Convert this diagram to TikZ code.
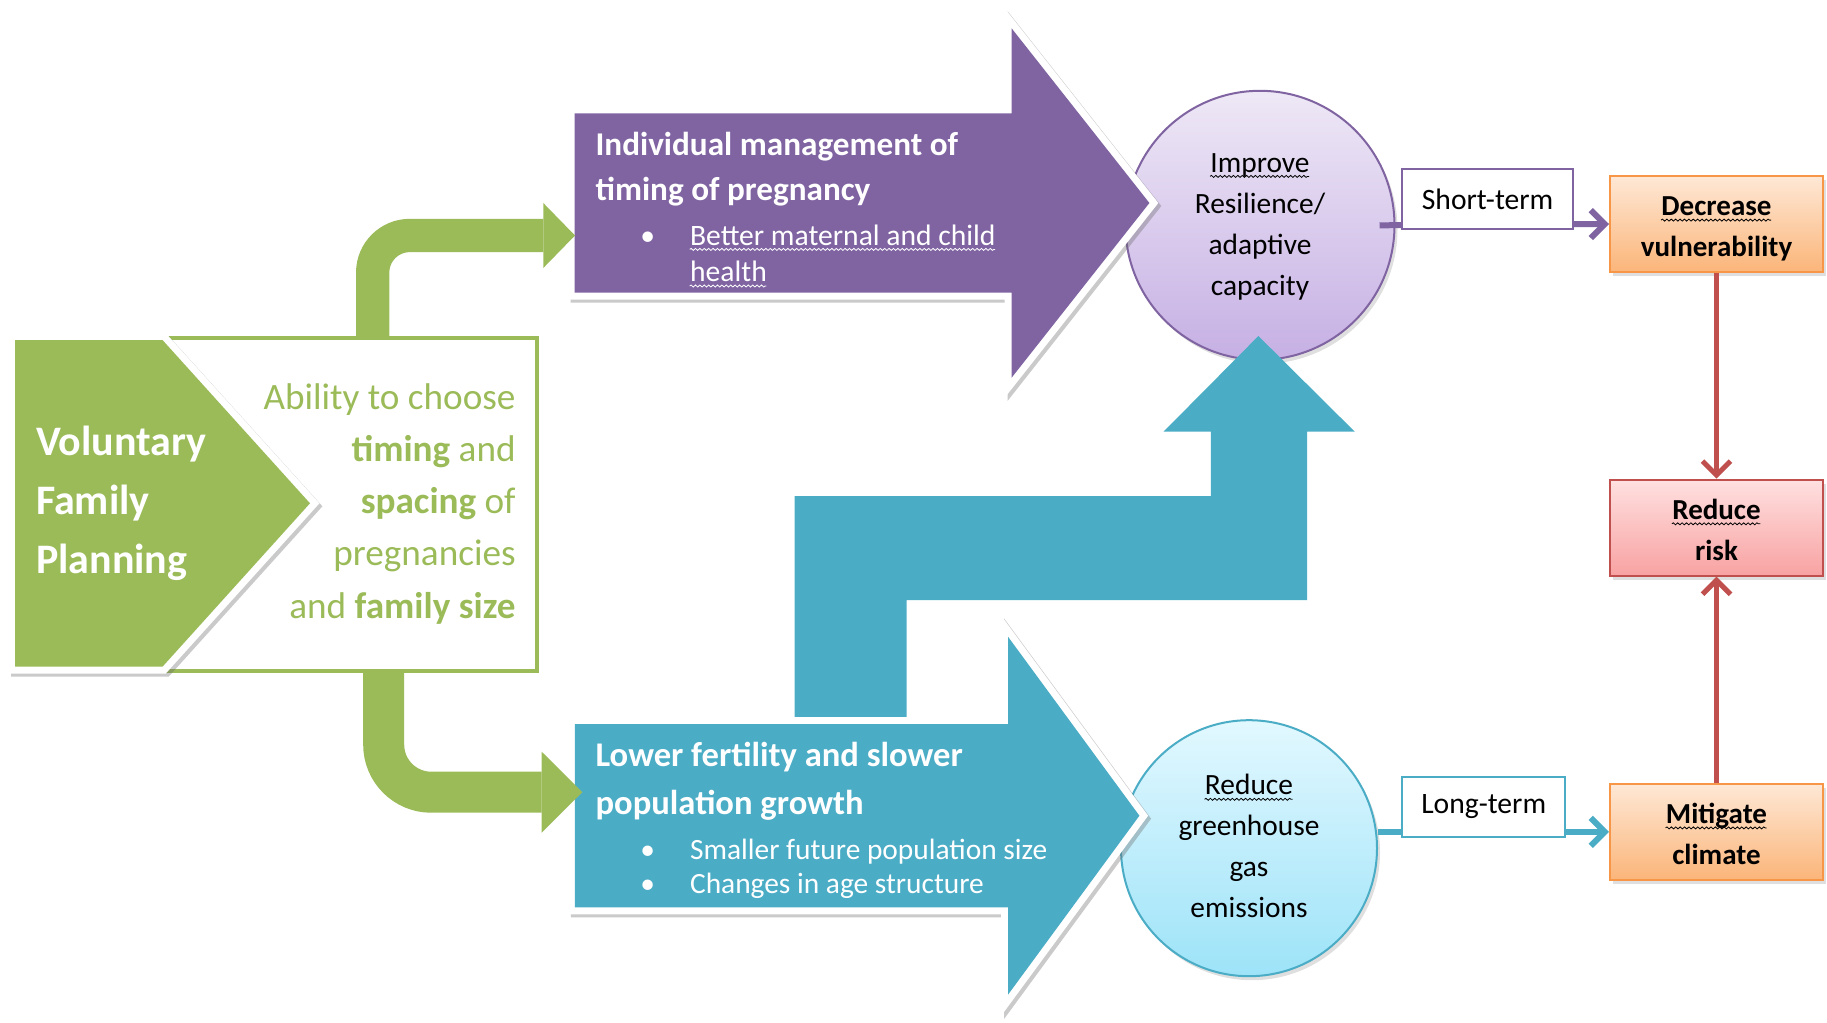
\documentclass[tikz,border=0pt]{standalone}
\usepackage{fontspec}
\setmainfont{Carlito}
\usetikzlibrary{arrows.meta, shadows, decorations.pathmorphing}

\definecolor{fpgreen}{HTML}{9BBB59}
\definecolor{fppurple}{HTML}{8064A2}
\definecolor{fpteal}{HTML}{4BACC6}
\definecolor{fpred}{HTML}{C0504D}
\definecolor{fporange}{HTML}{F79646}
\definecolor{lavtop}{HTML}{EEE8F6}
\definecolor{lavbot}{HTML}{C6B0E4}
\definecolor{skytop}{HTML}{E2F8FF}
\definecolor{skybot}{HTML}{9DE3F8}
\definecolor{peachtop}{HTML}{FEE8D6}
\definecolor{peachbot}{HTML}{FBB579}
\definecolor{pinktop}{HTML}{FFE0E0}
\definecolor{pinkbot}{HTML}{F8A2A2}

% wavy underline under a word
\newsavebox\sqbox
\newcommand\squig[1]{\sbox\sqbox{#1}\usebox\sqbox\llap{\tikz[baseline=0pt]{%
  \draw[draw=., line width=0.4pt, decorate,
        decoration={snake, amplitude=0.5pt, segment length=2.2pt}]
    (0pt,-2.2pt) -- (\wd\sqbox,-2.2pt);}}}

\begin{document}
\begin{tikzpicture}[x=0.5pt, y=-0.5pt,
  blockarrow/.style={drop shadow={shadow xshift=1.5pt, shadow yshift=-1.5pt,
      opacity=0.35, fill=black!60, draw=black!60, line width=7pt},
    preaction={draw=white, line width=7pt}, fill=#1},
  outcome/.style={circle, draw=#1, line width=1pt, inner sep=0pt,
    font=\fontsize{14.7}{20.5}\selectfont,
    drop shadow={shadow xshift=1.5pt, shadow yshift=-2pt, opacity=0.25}},
  termbox/.style={draw=#1, line width=1pt, fill=white, inner sep=0pt,
    minimum height=30pt, font=\fontsize{14.8}{20}\selectfont},
  goalbox/.style={draw=#1, line width=1pt, inner sep=0pt,
    minimum width=106.5pt, minimum height=48pt,
    font=\bfseries\fontsize{14.5}{20.5}\selectfont,
    drop shadow={shadow xshift=1.5pt, shadow yshift=-2pt, opacity=0.25}},
  link/.style={draw=#1, line width=3pt, -{Straight Barb[length=7pt, width=14pt]}}
]
  \useasboundingbox (0,0) rectangle (1827,1023);

  % --- Outcomes (circles) ---
  \node[outcome=fppurple, minimum size=134.5pt,
        top color=lavtop, bottom color=lavbot] (imp) at (1260,225.3)
    {\begin{tabular}{@{}c@{}}\squig{Improve}\\Resilience/\\adaptive\\capacity\end{tabular}};
  \node[outcome=fpteal, minimum size=128pt,
        top color=skytop, bottom color=skybot] (ghg) at (1249,848.2)
    {\begin{tabular}{@{}c@{}}\squig{Reduce}\\greenhouse\\gas\\emissions\end{tabular}};

  % --- Goals ---
  \node[goalbox=fporange, top color=peachtop, bottom color=peachbot]
    (dec) at (1716.5,224)
    {\raisebox{-2pt}[\height][\depth]{\begin{tabular}{@{}c@{}}\squig{Decrease}\\vulnerability\end{tabular}}};
  \node[goalbox=fpred, top color=pinktop, bottom color=pinkbot]
    (risk) at (1716.5,527.7)
    {\raisebox{-2pt}[\height][\depth]{\begin{tabular}{@{}c@{}}\squig{Reduce}\\risk\end{tabular}}};
  \node[goalbox=fporange, top color=peachtop, bottom color=peachbot]
    (mit) at (1716.5,831.8)
    {\raisebox{-2pt}[\height][\depth]{\begin{tabular}{@{}c@{}}\squig{Mitigate}\\climate\end{tabular}}};

  % --- Term links ---
  \draw[link=fppurple] ([xshift=-8pt]imp.east) -- (dec.west);
  \node[termbox=fppurple, minimum width=85.3pt] (st) at (1487.6,199) {Short-term};
  \draw[link=fpteal] (ghg.east |- mit.west) -- (mit.west);
  \node[termbox=fpteal, minimum width=81.4pt] (lt) at (1483.7,806.8) {Long-term};
  \draw[link=fpred, line width=2.5pt] (dec) -- (risk);
  \draw[link=fpred, line width=2.5pt] (mit) -- (risk);

  % --- Pathway arrows ---
  \path[blockarrow=fppurple] (574.5,113.3) -- (1011.6,113.3) -- (1011.6,28.3)
    -- (1149.4,203) -- (1011.6,377.7) -- (1011.6,292.7) -- (574.5,292.7) -- cycle;
  \fill[fpteal] (794.5,719.3) -- (794.5,496) -- (1210.9,496) -- (1210.9,431.7)
    -- (1163.5,431.7) -- (1258.4,336) -- (1354.8,431.7) -- (1307,431.7)
    -- (1307,600) -- (906.7,600) -- (906.7,719.3) -- cycle;
  \path[blockarrow=fpteal] (574.9,724) -- (1008,724) -- (1008,636.7)
    -- (1139.4,815.7) -- (1008,994.7) -- (1008,907.3) -- (574.9,907.3) -- cycle;

  % --- Family planning ---
  \node[draw=fpgreen, line width=2.25pt, minimum width=256pt,
        minimum height=166.5pt, inner sep=0pt] (choice) at (281,504.5) {};
  \path[blockarrow=fpgreen] (15,340) -- (162.5,340) -- (310,503.3)
    -- (162.5,666.7) -- (15,666.7) -- cycle;

  % bent green arrows
  \coordinate (gup) at (372.7,338);
  \coordinate (pin) at (575,235.5);
  \coordinate (gdn) at (383.7,671);
  \coordinate (tin) at (582.3,792.2);
  \draw[draw=fpgreen, line width=16.65pt, rounded corners=18.5pt,
        -{Triangle[length=15.85pt, width=32.5pt, line width=0pt]}] (gup) |- (pin);
  \draw[draw=fpgreen, line width=20.5pt, rounded corners=23.75pt,
        -{Triangle[length=20.3pt, width=40.5pt, line width=0pt]}] (gdn) |- (tin);

  % --- Texts ---
  \node[anchor=base west, inner sep=0pt, text=white,
        font=\bfseries\fontsize{21}{29.5}\selectfont] (vfp) at (35.7,455)
    {\begin{tabular}[t]{@{}l@{}}Voluntary\\Family\\Planning\end{tabular}};
  \node[anchor=base east, inner sep=0pt, text=fpgreen,
        font=\fontsize{18.6}{26.1}\selectfont] (abil) at (516,409.3)
    {\begin{tabular}[t]{@{}r@{}}Ability to choose\\\textbf{timing} and\\
      \textbf{spacing} of\\pregnancies\\and \textbf{family size}\end{tabular}};

  \node[anchor=base west, inner sep=0pt, text=white,
        font=\bfseries\fontsize{16.6}{22.8}\selectfont] (indivt) at (595.2,155)
    {\begin{tabular}[t]{@{}l@{}}Individual management of\\timing of pregnancy\end{tabular}};
  \node[anchor=base west, inner sep=0pt, text=white,
        font=\fontsize{14.8}{18.3}\selectfont] (indivb) at (640,245)
    {\begin{tabular}[t]{@{}l@{}l@{}}\makebox[24.85pt][l]{\textbullet}
      & \squig{Better maternal and child}\\ & \squig{health}\end{tabular}};

  \node[anchor=base west, inner sep=0pt, text=white,
        font=\bfseries\fontsize{17.3}{24}\selectfont] (lowt) at (595.2,766.7)
    {\begin{tabular}[t]{@{}l@{}}Lower fertility and slower\\population growth\end{tabular}};
  \node[anchor=base west, inner sep=0pt, text=white,
        font=\fontsize{14.7}{17}\selectfont] (lowb) at (640,859.3)
    {\begin{tabular}[t]{@{}l@{}l@{}}\makebox[24.85pt][l]{\textbullet}
      & Smaller future population size\\
      \makebox[24.85pt][l]{\textbullet} & Changes in age structure\end{tabular}};

\end{tikzpicture}
\end{document}
